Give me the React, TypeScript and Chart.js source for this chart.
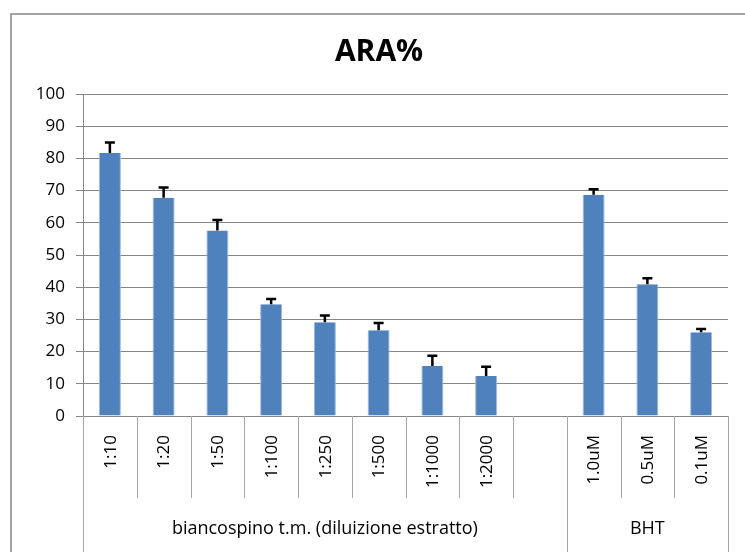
import { useEffect, useRef } from "react";
import { Chart, registerables } from "chart.js";

Chart.register(...registerables);

const TITLE = "ARA%";
const categories = ["1:10", "1:20", "1:50", "1:100", "1:250", "1:500", "1:1000", "1:2000", "", "1.0uM", "0.5uM", "0.1uM"];
const values: (number | null)[] = [81.7, 67.8, 57.6, 34.7, 29.1, 26.6, 15.5, 12.4, null, 68.7, 40.9, 26.0];
const errors: (number | null)[] = [3.2, 3.2, 3.3, 1.6, 2.1, 2.3, 3.2, 2.9, null, 1.7, 1.9, 1.0];
const groupLabels = ["biancospino t.m. (diluizione estratto)", "BHT"];
const groupStarts = [0, 9];
const groupEnds = [8, 11];
const yTicks = [0, 10, 20, 30, 40, 50, 60, 70, 80, 90, 100];

const FONT = "'Open Sans', 'DejaVu Sans', sans-serif";
const GRID = "#868686";
const DIVIDER = "#a6a6a6";

const decorPlugin = {
  id: "decor",
  beforeDraw(chart: any) {
    const ctx = chart.ctx;
    ctx.save();
    ctx.fillStyle = "#ffffff";
    ctx.fillRect(0, 0, chart.width, chart.height);
    ctx.strokeStyle = GRID;
    ctx.lineWidth = 1.5;
    ctx.strokeRect(11, 14, chart.width + 50, chart.height + 50);
    // title
    ctx.fillStyle = "#000";
    ctx.font = `bold 30px ${FONT}`;
    ctx.textAlign = "center";
    ctx.textBaseline = "alphabetic";
    ctx.fillText(TITLE, 379, 61);
    ctx.restore();
  },
  afterDraw(chart: any) {
    const ctx = chart.ctx;
    const xs = chart.scales.x;
    const area = chart.chartArea;
    const half = (xs.getPixelForValue(1) - xs.getPixelForValue(0)) / 2;
    ctx.save();
    // dividers
    ctx.strokeStyle = DIVIDER;
    ctx.lineWidth = 1;
    const groupBoundaries = new Set<number>();
    groupStarts.forEach((s) => groupBoundaries.add(s));
    groupEnds.forEach((e) => groupBoundaries.add(e + 1));
    for (let i = 0; i <= categories.length; i++) {
      const x = Math.round(xs.getPixelForValue(i) - half) + 0.5;
      const long = groupBoundaries.has(i);
      ctx.beginPath();
      ctx.moveTo(x, area.bottom);
      ctx.lineTo(x, long ? chart.height : area.bottom + 82);
      ctx.stroke();
    }
    // rotated category labels
    ctx.fillStyle = "#000";
    ctx.font = `17px ${FONT}`;
    ctx.textAlign = "right";
    ctx.textBaseline = "middle";
    categories.forEach((c, i) => {
      if (!c) return;
      const x = xs.getPixelForValue(i);
      ctx.save();
      ctx.translate(x + 1, area.bottom + 19);
      ctx.rotate(-Math.PI / 2);
      ctx.fillText(c, 0, 0);
      ctx.restore();
    });
    // group labels
    ctx.textAlign = "center";
    ctx.textBaseline = "alphabetic";
    ctx.font = `18px ${FONT}`;
    groupLabels.forEach((g, k) => {
      const x0 = xs.getPixelForValue(groupStarts[k]) - half;
      const x1 = xs.getPixelForValue(groupEnds[k]) + half;
      ctx.fillText(g, (x0 + x1) / 2, area.bottom + 118);
    });
    ctx.restore();
  },
  afterDatasetsDraw(chart: any) {
    const ctx = chart.ctx;
    const xs = chart.scales.x;
    const ys = chart.scales.y;
    ctx.save();
    ctx.strokeStyle = "#000";
    ctx.lineWidth = 2.5;
    values.forEach((v, i) => {
      const e = errors[i];
      if (v == null || e == null) return;
      const x = xs.getPixelForValue(i);
      const yb = ys.getPixelForValue(v);
      const yt = ys.getPixelForValue(v + e);
      ctx.beginPath();
      ctx.moveTo(x, yb);
      ctx.lineTo(x, yt);
      ctx.moveTo(x - 5, yt);
      ctx.lineTo(x + 5, yt);
      ctx.stroke();
    });
    ctx.restore();
  },
};

export default function App() {
  const ref = useRef<HTMLCanvasElement | null>(null);
  useEffect(() => {
    if (!ref.current) return;
    const chart = new Chart(ref.current, {
      type: "bar",
      data: {
        labels: categories,
        datasets: [
          {
            data: values as any,
            backgroundColor: "#4f81bd",
            borderColor: "#9fbbdc",
            borderWidth: { left: 1, right: 1, top: 0, bottom: 0 } as any,
            borderSkipped: false,
            barPercentage: 0.41,
            categoryPercentage: 1,
          },
        ],
      },
      options: {
        animation: false,
        responsive: false,
        devicePixelRatio: 1,
        layout: { padding: { top: 94, right: 17, left: 0, bottom: 0 } },
        plugins: { legend: { display: false }, title: { display: false }, tooltip: { enabled: false } },
        scales: {
          x: {
            type: "category",
            grid: { display: false },
            border: { display: true, color: GRID, width: 1 },
            ticks: { display: false },
            afterFit: (s: any) => {
              s.height = 136;
            },
          },
          y: {
            min: 0,
            max: 100,
            afterBuildTicks: (s: any) => {
              s.ticks = yTicks.map((v) => ({ value: v }));
            },
            grid: { color: GRID, lineWidth: 1, tickLength: 7, drawTicks: true },
            border: { display: true, color: GRID, width: 1 },
            ticks: {
              color: "#000",
              padding: 11,
              font: { family: FONT, size: 17 },
            },
            afterFit: (s: any) => {
              s.width = 83;
            },
          },
        },
      },
      plugins: [decorPlugin],
    });
    return () => chart.destroy();
  }, []);
  return (
    <div style={{ position: "fixed", left: 0, top: 0, width: 745, height: 552, background: "#fff" }}>
      <canvas ref={ref} width={745} height={552} style={{ width: 745, height: 552, display: "block" }} />
    </div>
  );
}
